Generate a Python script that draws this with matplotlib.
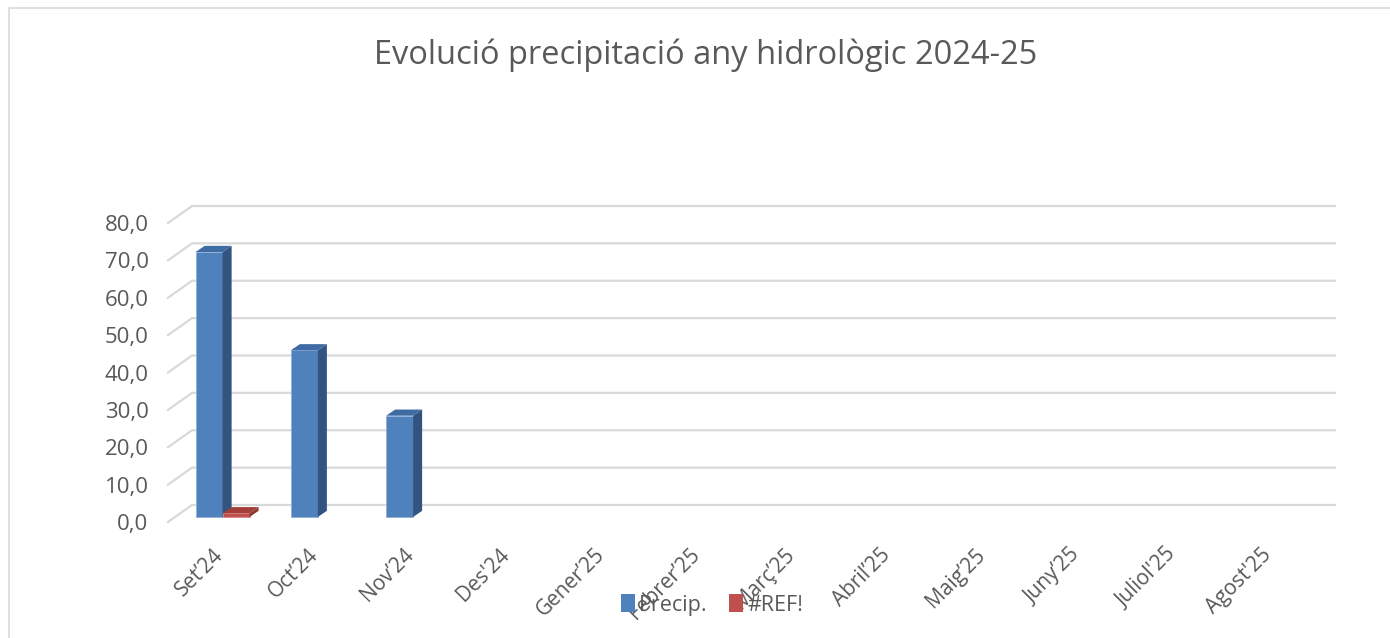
import matplotlib.pyplot as plt
from matplotlib.patches import Polygon, Patch
from matplotlib.lines import Line2D

plt.rcParams['font.family'] = ['Open Sans', 'DejaVu Sans']

# Data
months = ['Set’24', 'Oct’24', 'Nov’24', "Des'24", 'Gener’25', 'Febrer’25',
          'Març’25', 'Abril’25', 'Maig’25', 'Juny’25', "Juliol'25", "Agost'25"]
precip = [70.9, 44.6, 27.1, None, None, None, None, None, None, None, None, None]
ref = [1.0, None, None, None, None, None, None, None, None, None, None, None]
series_names = ['Precip.', '#REF!']

# colours: front, side, top
blue = ('#4F81BD', '#33547F', '#3E6BA3')
red = ('#C0504D', '#8E3431', '#A33E3B')
grid_col = '#D9D9D9'
text_col = '#595959'

# pseudo-3D geometry (data units: category / value)
Dx, Dy = 0.252, 4.55      # full depth of the walls
fx, fy = 0.073, 1.34      # bar front plane shift
bx, by = 0.095, 1.65      # bar depth
w = 0.283                 # bar width

fig = plt.figure(figsize=(13.9, 6.38), dpi=100)
# chart frame (top and left edges visible)
fig.lines.append(Line2D([9 / 1390, 9 / 1390, 1], [0, 1 - 8 / 638, 1 - 8 / 638],
                        transform=fig.transFigure, color=grid_col, linewidth=1.2))

ax = fig.add_axes([168 / 1390, 116 / 638, 1167 / 1390, 316 / 638])
ax.set_xlim(0, len(months) + Dx)
ax.set_ylim(0, 80 + Dy)
for s in ax.spines.values():
    s.set_visible(False)

# gridlines on floor edge + back wall
for v in range(0, 81, 10):
    ax.plot([0, Dx, len(months) + Dx], [v, v + Dy, v + Dy],
            color=grid_col, linewidth=1.6, clip_on=False, zorder=1)


def bar3d(i, k, val, cols):
    x0 = i + 0.5 - w + k * w + fx
    ax.bar(x0, val, width=w, bottom=fy, align='edge', color=cols[0],
           edgecolor='#8FB0DA' if k == 0 else '#D88C8A', linewidth=0.6, zorder=3 + k)
    side = [(x0 + w, fy), (x0 + w + bx, fy + by), (x0 + w + bx, fy + val + by), (x0 + w, fy + val)]
    top = [(x0, fy + val), (x0 + bx, fy + val + by), (x0 + w + bx, fy + val + by), (x0 + w, fy + val)]
    ax.add_patch(Polygon(side, closed=True, facecolor=cols[1], edgecolor='none', zorder=3 + k))
    ax.add_patch(Polygon(top, closed=True, facecolor=cols[2], edgecolor='none', zorder=3 + k))


for i in range(len(months)):
    if precip[i] is not None:
        bar3d(i, 0, precip[i], blue)
    if ref[i] is not None:
        bar3d(i, 1, ref[i], red)

ax.set_yticks(range(0, 81, 10))
ax.set_yticklabels([f'{v:.1f}'.replace('.', ',') for v in range(0, 81, 10)],
                   fontsize=16, color=text_col)
ax.tick_params(axis='y', length=0, pad=14)

ax.set_xticks([i + 0.47 for i in range(len(months))])
ax.set_xticklabels(months, rotation=45, ha='right', rotation_mode='anchor',
                   fontsize=15, color=text_col)
ax.tick_params(axis='x', length=0, pad=16)

fig.text(706 / 1390, 1 - 55 / 638, 'Evolució precipitació any hidrològic 2024-25',
         ha='center', va='center', fontsize=23.5, color=text_col)

handles = [Patch(facecolor=blue[0]), Patch(facecolor=red[0])]
fig.legend(handles, series_names, loc='center', bbox_to_anchor=(712 / 1390, 1 - 605 / 638),
           ncol=2, frameon=False, fontsize=15.5, handlelength=0.65, handleheight=0.85,
           handletextpad=0.2, columnspacing=1.0, labelcolor=text_col)

fig.savefig('out.png', dpi=100)
